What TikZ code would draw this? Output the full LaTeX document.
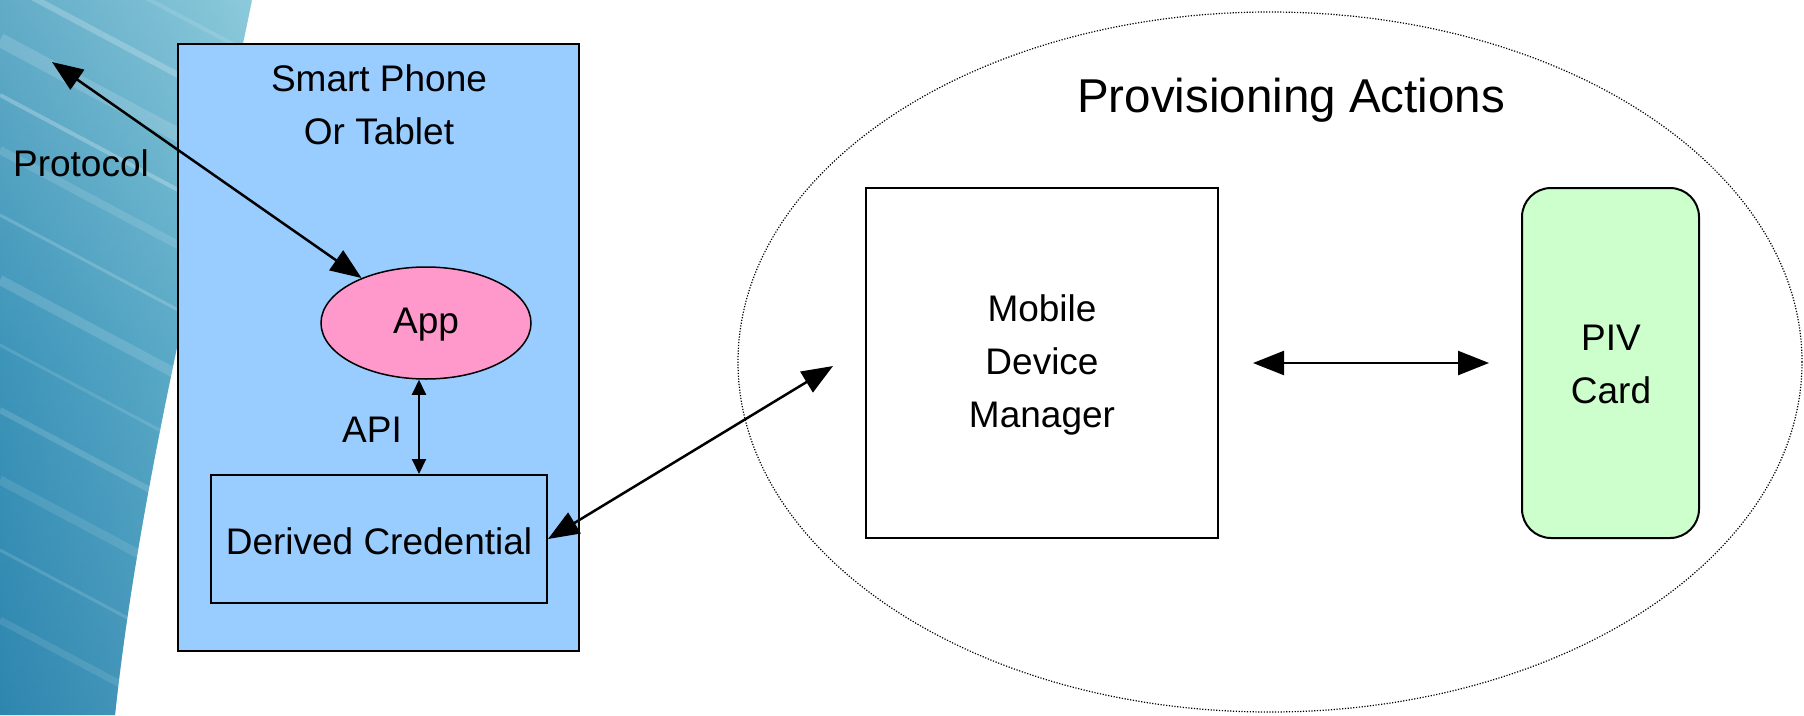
\documentclass[tikz,border=0pt]{standalone}
\usepackage{fontspec}
\setmainfont{Liberation Sans}
\usetikzlibrary{arrows.meta,shapes.geometric}
\definecolor{phonefill}{HTML}{99CCFF}
\definecolor{appfill}{HTML}{FF99CC}
\definecolor{pivfill}{HTML}{CCFFCC}
\definecolor{swdark}{HTML}{2E86AF}
\definecolor{swmid}{HTML}{4AA1C2}
\definecolor{swlight}{HTML}{8ECBDC}
\begin{document}
\begin{tikzpicture}[x=1pt,y=-1pt,
  txt/.style={font=\fontsize{37}{53}\selectfont, align=center, inner sep=0pt},
  boxline/.style={draw=black, line width=2pt},
  bigarr/.style={line width=2.5pt, {Triangle[length=31pt,width=24pt]}-{Triangle[length=31pt,width=24pt]}},
  smallarr/.style={line width=2pt, {Triangle[length=15pt,width=14pt]}-{Triangle[length=15pt,width=14pt]}}]
\useasboundingbox (0,0) rectangle (1804,715);
% background swoosh
\begin{scope}
\path[clip] (0,0) -- (252,0) .. controls (205,230) and (140,480) .. (115,715) -- (0,715) -- cycle;
\shade[top color=swlight, bottom color=swdark, middle color=swmid] (0,0) rectangle (260,715);
\shade[left color=swdark, right color=swlight, opacity=0.45] (0,0) rectangle (260,715);
\foreach \y/\o/\w in {-140/0.18/12, -80/0.12/4, -20/0.22/6, 40/0.15/14, 95/0.25/4, 150/0.12/8, 215/0.18/3, 280/0.14/10, 345/0.12/3, 410/0.14/6, 480/0.1/9, 550/0.14/3, 620/0.1/7}
  \draw[white, opacity=\o, line width=\w pt] (0,\y) -- (300,\y+160);
\end{scope}
% phone
\node[boxline, fill=phonefill, minimum width=401pt, minimum height=607pt, inner sep=0pt] (phone) at (378.5,347.5) {};
\node[txt] (phonelbl) at (379,104.5) {Smart Phone\\Or Tablet};
\node[draw=black, line width=1.5pt, fill=appfill, ellipse, minimum width=210pt, minimum height=112pt, inner sep=0pt] (app) at (426,323) {};
\node[txt] (apptxt) at (426,325) {App};
\node[boxline, minimum width=336pt, minimum height=128pt, inner sep=0pt] (derived) at (379,539) {};
\node[txt] (derivedtxt) at (379,541) {Derived Credential};
\node[txt] (api) at (372,430) {API};
\node[txt] (proto) at (81,163) {Protocol};
\coordinate (protoend) at (52,62);
\draw[bigarr] (protoend) -- (app);
\draw[smallarr] ([xshift=-7pt]app.south) -- ([xshift=-7pt]app.south |- derived.north);
% provisioning
\node[draw=black, dash pattern=on 1.2pt off 1.6pt, line width=1.2pt, ellipse, minimum width=1064pt, minimum height=700pt, inner sep=0pt] (provis) at (1270,362) {};
\node[font=\fontsize{47.5}{57}\selectfont, inner sep=0pt] (provlbl) at (1291,100) {Provisioning Actions};
\node[boxline, minimum width=352pt, minimum height=350pt, inner sep=0pt] (mdm) at (1042,363) {};
\node[txt] (mdmtxt) at (1042,365) {Mobile\\Device\\Manager};
\node[boxline, fill=pivfill, rounded corners=29pt, minimum width=177pt, minimum height=350pt, inner sep=0pt] (piv) at (1610.5,363) {};
\node[txt] (pivtxt) at (1611,364.5) {PIV\\Card};
\coordinate (mdmin) at (833,366);
\draw[bigarr] (derived.east) -- (mdmin);
\draw[bigarr, shorten <=34pt, shorten >=32pt] (mdm.east) -- (piv.west);
\end{tikzpicture}
\end{document}
